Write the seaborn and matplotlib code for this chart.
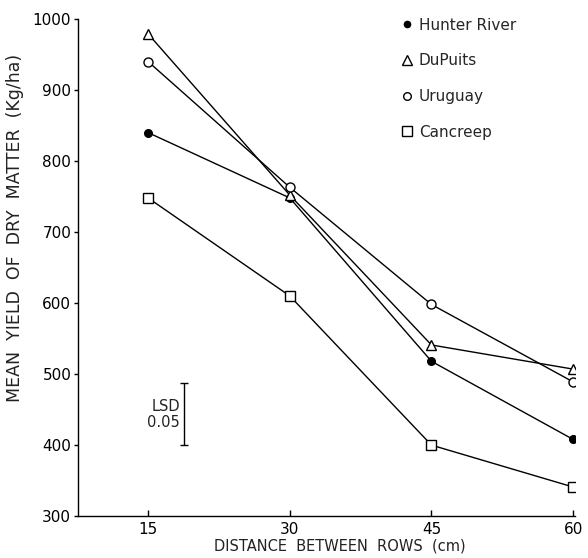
import matplotlib
matplotlib.use("Agg")
import matplotlib.pyplot as plt
import seaborn as sns
import pandas as pd
from matplotlib.lines import Line2D

sns.set_theme(style="ticks")
plt.rcParams['font.family'] = ['DejaVu Sans']

distance = [15, 30, 45, 60]
hunter_river = [840, 748, 518, 408]
dupuits = [979, 752, 541, 507]
uruguay = [940, 763, 598, 489]
cancreep = [748, 610, 400, 341]
varieties = ["Hunter River", "DuPuits", "Uruguay", "Cancreep"]
lsd_value = 87
lsd_base = 400

rows = []
for name, vals in zip(varieties, [hunter_river, dupuits, uruguay, cancreep]):
    for d, v in zip(distance, vals):
        rows.append({"Distance": d, "Yield": v, "Variety": name})
df = pd.DataFrame(rows)

markers = {"Hunter River": "o", "DuPuits": "^", "Uruguay": "o", "Cancreep": "s"}
msizes = {"Hunter River": 5.5, "DuPuits": 7.5, "Uruguay": 6.5, "Cancreep": 7.5}
faces = {"Hunter River": "black", "DuPuits": "white", "Uruguay": "white", "Cancreep": "white"}

fig = plt.figure(figsize=(5.88, 5.58), dpi=100)
ax = fig.add_axes([0.133, 0.075, 0.845, 0.891])

for name in varieties:
    sub = df[df["Variety"] == name]
    sns.lineplot(data=sub, x="Distance", y="Yield", ax=ax, color="black",
                 linewidth=1.0, marker=markers[name], markersize=msizes[name],
                 markerfacecolor=faces[name], markeredgecolor="black",
                 markeredgewidth=1.0, legend=False)

ax.set_xlim(7.6, 60.2)
ax.set_ylim(300, 1000)
ax.set_xticks(distance)
ax.set_xticklabels([str(d) for d in distance])
ax.set_yticks([300, 400, 500, 600, 700, 800, 900, 1000])
ax.tick_params(axis='x', direction='in', length=4, width=1, labelsize=11, pad=4, colors='black')
ax.tick_params(axis='y', direction='out', length=3, width=1, labelsize=11, pad=2, colors='black')
for s in ["top", "right"]:
    ax.spines[s].set_visible(False)
for s in ["left", "bottom"]:
    ax.spines[s].set_color("black")
    ax.spines[s].set_linewidth(1.0)

ax.set_xlabel("DISTANCE  BETWEEN  ROWS  (cm)", fontsize=10.5, color="#222222")
ax.set_ylabel("MEAN  YIELD  OF  DRY  MATTER  (Kg/ha)", fontsize=12.5, color="#222222")
ax.yaxis.set_label_coords(-0.11, 0.58)
ax.xaxis.set_label_coords(0.527, -0.045)

# LSD bar
ax.errorbar([18.8], [lsd_base + lsd_value / 2], yerr=[lsd_value / 2], color="black",
            capsize=3, elinewidth=1, capthick=1, fmt="none")
ax.text(18.4, lsd_base + lsd_value / 2, "LSD\n0.05", ha="right", va="center",
        fontsize=10.5, color="#222222", linespacing=1.1)

handles = [Line2D([], [], linestyle="none", marker=markers[n], markersize=msizes[n] - 1,
                  markerfacecolor=faces[n], markeredgecolor="black") for n in varieties]
ax.legend(handles, varieties, loc="upper left", bbox_to_anchor=(0.615, 1.03), frameon=False,
          fontsize=11, labelspacing=1.35, handletextpad=0.2, handlelength=1.2)

fig.savefig("out.png", dpi=100, facecolor="white")
